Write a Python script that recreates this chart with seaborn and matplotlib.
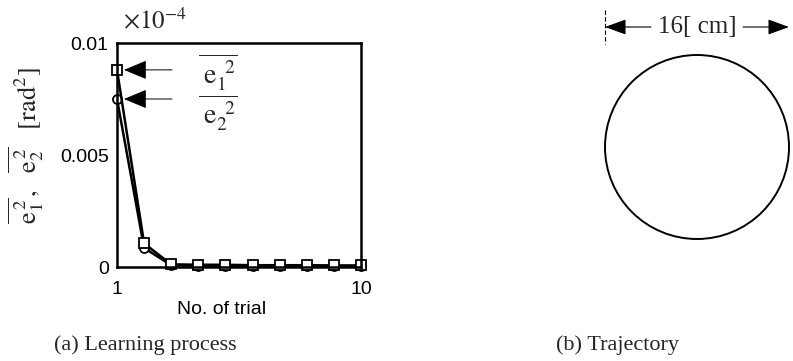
import numpy as np
import pandas as pd
import matplotlib
matplotlib.use("Agg")
import matplotlib.pyplot as plt
from matplotlib.patches import Circle
import seaborn as sns

# learning process: mean squared joint errors per trial
trials = [1, 2, 3, 4, 5, 6, 7, 8, 9, 10]
e1_sq = [0.0088, 0.00105, 0.00012, 0.0001, 0.0001, 0.00008, 0.00008, 0.00008, 0.00007, 0.00007]
e2_sq = [0.0075, 0.00085, 0.00008, 0.00006, 0.00006, 0.00005, 0.00005, 0.00005, 0.00004, 0.00004]

x_ticks = [1, 10]
y_ticks = [0, 0.005, 0.01]
y_tick_labels = ["0", "0.005", "0.01"]

# trajectory: circle of 16 cm diameter
traj_diameter_cm = 16

W, H = 793, 361

sns.set_theme(style="white")
plt.rcParams["font.family"] = ["Liberation Sans", "DejaVu Sans"]
plt.rcParams["mathtext.fontset"] = "stix"

fig = plt.figure(figsize=(W / 100, H / 100), dpi=100)

# ---- (a) learning process ----
ax_l, ax_r, ax_t, ax_b = 117, 361, 43, 267
ax = fig.add_axes([ax_l / W, 1 - ax_b / H, (ax_r - ax_l) / W, (ax_b - ax_t) / H])

df = pd.DataFrame({
    "trial": trials * 2,
    "err": e1_sq + e2_sq,
    "series": ["e1"] * len(trials) + ["e2"] * len(trials),
})
sns.lineplot(data=df[df["series"] == "e2"], x="trial", y="err", ax=ax,
             color="black", lw=1.8, marker="o", ms=6.5, mfc="white", mec="black",
             mew=1.3, legend=False, zorder=3, clip_on=False)
sns.lineplot(data=df[df["series"] == "e1"], x="trial", y="err", ax=ax,
             color="black", lw=1.8, marker="s", ms=6.5, mfc="white", mec="black",
             mew=1.3, legend=False, zorder=4, clip_on=False)

ax.set_xlim(1, 10)
ax.set_ylim(0, 0.01)
ax.set_xticks(x_ticks)
ax.set_yticks(y_ticks)
ax.set_yticklabels(y_tick_labels)
ax.tick_params(axis="both", labelsize=14, length=0, pad=6, colors="black")
ax.tick_params(axis="x", pad=10)
ax.set_xlabel("No. of trial", fontsize=14, color="black")
ax.xaxis.set_label_coords((222 - ax_l) / (ax_r - ax_l), (ax_b - 310) / (ax_b - ax_t))
ax.xaxis.label.set_va("center")
ax.set_ylabel("")
for s in ax.spines.values():
    s.set_visible(True)
    s.set_color("black")
    s.set_linewidth(1.8)
    s.set_zorder(5)


def px2x(px):
    return 1 + (px - ax_l) / (ax_r - ax_l) * 9


def px2y(py):
    return (ax_b - py) / (ax_b - ax_t) * 0.01


arrow_kw = dict(arrowstyle="-|>,head_length=1.2,head_width=0.5",
                color="black", lw=0.7, shrinkA=0, shrinkB=0)
ax.annotate("", xy=(px2x(124), e1_sq[0]), xytext=(px2x(172), e1_sq[0]),
            arrowprops=arrow_kw)
ax.annotate("", xy=(px2x(124), e2_sq[0]), xytext=(px2x(172), e2_sq[0]),
            arrowprops=arrow_kw)
ax.text(px2x(218), px2y(72), r"$\overline{\;\mathrm{e}_1^{\;\;2}}$",
        fontsize=20, ha="center", va="center")
ax.text(px2x(218), px2y(113), r"$\overline{\;\mathrm{e}_2^{\;\;2}}$",
        fontsize=20, ha="center", va="center")

fig.text(123 / W, 1 - 20 / H, r"$\times10^{-4}$", fontsize=18,
         ha="left", va="center")
fig.text(26 / W, 1 - 146 / H,
         r"$\overline{\mathrm{e}_1^{\,2}}\,,\ \ \overline{\mathrm{e}_2^{\,2}}\quad [\mathrm{rad}^2]$",
         fontsize=19, rotation=90, ha="center", va="center")
fig.text(145 / W, 1 - 345 / H, "(a) Learning process", fontsize=16,
         family="Liberation Serif", ha="center", va="center")

# ---- (b) trajectory ----
ax2 = fig.add_axes([560 / W, 0, (W - 560) / W, 1])
scale = 11.5  # px per cm
cx, cy = 697, 147
ax2.set_xlim((560 - cx) / scale, (W - cx) / scale)
ax2.set_ylim((cy - H) / scale, cy / scale)
ax2.axis("off")
r = traj_diameter_cm / 2
ax2.add_patch(Circle((0, 0), r, fill=False, lw=1.4, ec="black"))

y_dim = (cy - 27) / scale
ax2.plot([-r, -r], [(cy - 10) / scale, (cy - 44) / scale], color="black", lw=0.8, ls=(0, (4, 2)))
dim_kw = dict(arrowstyle="-|>,head_length=1.1,head_width=0.4",
              color="black", lw=0.8, shrinkA=0, shrinkB=0)
ax2.annotate("", xy=(-r, y_dim), xytext=(-4.0, y_dim), arrowprops=dim_kw)
ax2.annotate("", xy=(r, y_dim), xytext=(4.0, y_dim), arrowprops=dim_kw)
ax2.text(0, y_dim, f"{traj_diameter_cm}[ cm]", fontsize=18, family="Liberation Serif",
         ha="center", va="center")
fig.text(618 / W, 1 - 345 / H, "(b) Trajectory", fontsize=16,
         family="Liberation Serif", ha="center", va="center")

fig.savefig("out.png", dpi=100)
